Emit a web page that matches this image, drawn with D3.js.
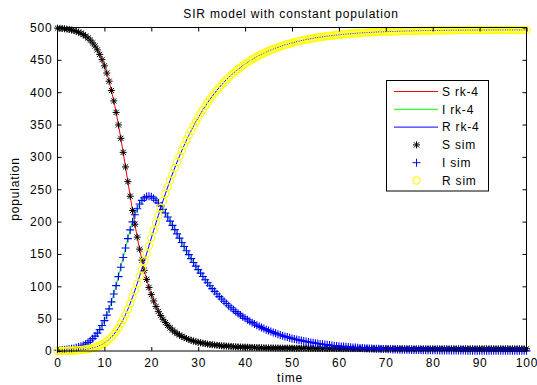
<!DOCTYPE html>
<html><head><meta charset="utf-8">
<script src="https://cdn.jsdelivr.net/npm/d3@7"></script>
<style>
body{margin:0;background:#fff}
svg{display:block}
text{font-family:"Liberation Sans",Arial,Helvetica,sans-serif;font-size:12px;letter-spacing:0.8px;fill:#000}
</style>
</head><body>
<svg id="chart" width="537" height="385"></svg>
<script>
// time grid step of the simulation (t = 0 ... 100)
const timeStep = 0.5;

// Susceptible
const S = [
499.0,498.7,498.4,498.0,497.5,496.9,496.1,495.2,494.1,492.8,
491.1,489.1,486.7,483.8,480.4,476.2,471.3,465.4,458.4,450.3,
440.7,429.6,417.0,402.6,386.5,368.7,349.4,328.7,307.0,284.5,
261.8,239.2,217.2,196.0,176.0,157.4,140.3,124.7,110.7,98.2,
87.2,77.4,68.8,61.3,54.8,49.0,44.0,39.6,35.8,32.4,
29.5,26.9,24.6,22.6,20.8,19.2,17.8,16.5,15.4,14.4,
13.5,
12.7,12.0,11.4,10.7,10.2,9.7,9.3,8.9,8.5,8.1,
7.8,7.5,7.3,7.0,6.8,6.6,6.4,6.2,6.1,5.9,
5.8,5.6,5.5,5.4,5.3,5.2,5.1,5.0,4.9,4.8,
4.8,4.7,4.6,4.6,4.5,4.5,4.4,4.4,4.3,4.3,
4.2,4.2,4.2,4.1,4.1,4.1,4.0,4.0,4.0,3.9,
3.9,3.9,3.9,3.9,3.8,3.8,3.8,3.8,3.8,3.8,
3.7,3.7,3.7,3.7,3.7,3.7,3.7,3.7,3.7,3.7,
3.6,3.6,3.6,3.6,3.6,3.6,3.6,3.6,3.6,3.6,
3.6,3.6,3.6,3.6,3.6,3.6,3.6,3.6,3.5,3.5,
3.5,3.5,3.5,3.5,3.5,3.5,3.5,3.5,3.5,3.5,
3.5,3.5,3.5,3.5,3.5,3.5,3.5,3.5,3.5,3.5,
3.5,3.5,3.5,3.5,3.5,3.5,3.5,3.5,3.5,3.5,
3.5,3.5,3.5,3.5,3.5,3.5,3.5,3.5,3.5,3.5,
3.5,3.5,3.5,3.5,3.5,3.5,3.5,3.5,3.5,3.5
];

// Infected
const I = [
1.0,1.2,1.5,1.8,2.2,2.7,3.3,4.0,4.9,6.0,
7.3,8.9,10.8,13.1,15.8,19.1,23.0,27.6,33.1,39.5,
46.9,55.4,65.1,75.9,88.0,101.0,115.0,129.5,144.4,159.3,
173.7,187.2,199.6,210.6,219.8,227.2,232.8,236.6,238.7,239.2,
238.4,236.2,233.1,229.0,224.3,218.9,213.2,207.0,200.7,194.2,
187.6,181.0,174.4,167.8,161.4,155.0,148.9,142.8,136.9,131.2,
125.7,
120.4,115.2,110.2,105.5,100.8,96.4,92.2,88.1,84.1,80.4,
76.8,73.3,70.0,66.8,63.8,60.9,58.1,55.5,52.9,50.5,
48.2,46.0,43.8,41.8,39.9,38.0,36.3,34.6,33.0,31.5,
30.0,28.6,27.3,26.0,24.8,23.6,22.5,21.5,20.5,19.5,
18.6,17.7,16.9,16.1,15.4,14.6,14.0,13.3,12.7,12.1,
11.5,11.0,10.5,10.0,9.5,9.1,8.6,8.2,7.8,7.5,
7.1,6.8,6.5,6.2,5.9,5.6,5.3,5.1,4.8,4.6,
4.4,4.2,4.0,3.8,3.6,3.5,3.3,3.1,3.0,2.9,
2.7,2.6,2.5,2.4,2.2,2.1,2.0,1.9,1.8,1.8,
1.7,1.6,1.5,1.5,1.4,1.3,1.3,1.2,1.1,1.1,
1.0,1.0,0.9,0.9,0.9,0.8,0.8,0.7,0.7,0.7,
0.6,0.6,0.6,0.6,0.5,0.5,0.5,0.5,0.4,0.4,
0.4,0.4,0.4,0.3,0.3,0.3,0.3,0.3,0.3,0.3,
0.2,0.2,0.2,0.2,0.2,0.2,0.2,0.2,0.2,0.2
];

// Recovered
const R = [
0.0,0.1,0.1,0.2,0.3,0.4,0.6,0.8,1.0,1.3,
1.6,2.0,2.5,3.1,3.8,4.7,5.7,7.0,8.5,10.3,
12.4,15.0,18.0,21.5,25.6,30.3,35.6,41.7,48.6,56.2,
64.5,73.5,83.2,93.4,104.2,115.4,126.9,138.7,150.6,162.5,
174.5,186.3,198.1,209.6,221.0,232.0,242.9,253.4,263.6,273.4,
283.0,292.2,301.1,309.6,317.8,325.7,333.3,340.6,347.6,354.3,
360.7,
366.9,372.8,378.4,383.8,389.0,393.9,398.5,403.0,407.4,411.5,
415.4,419.2,422.7,426.2,429.4,432.5,435.5,438.3,441.0,443.6,
446.0,448.4,450.7,452.8,454.8,456.8,458.6,460.4,462.1,463.7,
465.2,466.7,468.1,469.4,470.7,471.9,473.1,474.1,475.2,476.2,
477.2,478.1,478.9,479.8,480.5,481.3,482.0,482.7,483.3,484.0,
484.6,485.1,485.6,486.1,486.7,487.1,487.6,488.0,488.4,488.7,
489.2,489.5,489.8,490.1,490.4,490.7,491.0,491.2,491.5,491.7,
492.0,492.2,492.4,492.6,492.8,492.9,493.1,493.3,493.4,493.5,
493.7,493.8,493.9,494.0,494.2,494.3,494.4,494.5,494.7,494.7,
494.8,494.9,495.0,495.0,495.1,495.2,495.2,495.3,495.4,495.4,
495.5,495.5,495.6,495.6,495.6,495.7,495.7,495.8,495.8,495.8,
495.9,495.9,495.9,495.9,496.0,496.0,496.0,496.0,496.1,496.1,
496.1,496.1,496.1,496.2,496.2,496.2,496.2,496.2,496.2,496.2,
496.3,496.3,496.3,496.3,496.3,496.3,496.3,496.3,496.3,496.3
];

const xTicks = [0,10,20,30,40,50,60,70,80,90,100];
const yTicks = [0,50,100,150,200,250,300,350,400,450,500];
const legendLabels = ["S rk-4","I rk-4","R rk-4","S sim","I sim","R sim"];
const titleText = "SIR model with constant population";
const xLabel = "time";
const yLabel = "population";

const times = S.map((_, i) => i * timeStep);

const svg = d3.select("#chart");
const L = 57.5, Rt = 526.5, T = 27.5, B = 351;
const x = d3.scaleLinear().domain([0, 100]).range([L, Rt]);
const y = d3.scaleLinear().domain([0, 500]).range([B, T]);

svg.append("rect").attr("width", 537).attr("height", 385).attr("fill", "#fff");

// clip for data
svg.append("clipPath").attr("id", "clip").append("rect")
  .attr("x", L - 6).attr("y", T - 6).attr("width", Rt - L + 12).attr("height", B - T + 12);

const plot = svg.append("g").attr("clip-path", "url(#clip)");

const lineGen = vals => d3.line().x((d, i) => x(times[i])).y(d => y(d))(vals);

const lineSeries = [
  {vals: S, color: "#ff0000"},
  {vals: I, color: "#00ff00"},
  {vals: R, color: "#0000ff"}
];
lineSeries.forEach(s => {
  plot.append("path").attr("d", lineGen(s.vals)).attr("fill", "none")
    .attr("stroke", s.color).attr("stroke-width", 1);
});

const starPath = "M-3.5,0H3.5M0,-3.5V3.5M-2.6,-2.6L2.6,2.6M-2.6,2.6L2.6,-2.6";
const plusPath = "M-4,0H4M0,-4V4";

function drawMarkers(g, vals, kind) {
  const sel = g.append("g");
  vals.forEach((v, i) => {
    const cx = x(times[i]), cy = y(v);
    if (kind === "star") {
      sel.append("path").attr("d", starPath).attr("transform", `translate(${cx},${cy})`)
        .attr("stroke", "#000").attr("stroke-width", 1).attr("fill", "none");
    } else if (kind === "plus") {
      sel.append("path").attr("d", plusPath).attr("transform", `translate(${cx},${cy})`)
        .attr("stroke", "#0000ff").attr("stroke-width", 1.1).attr("fill", "none");
    } else {
      sel.append("circle").attr("cx", cx).attr("cy", cy).attr("r", 3.6)
        .attr("stroke", "#ffff00").attr("stroke-width", 1.1).attr("fill", "none");
    }
  });
}
drawMarkers(plot, S, "star");
drawMarkers(plot, I, "plus");
drawMarkers(plot, R, "circle");

// axes
const gx = svg.append("g").attr("transform", `translate(0,${B})`)
  .call(d3.axisBottom(x).tickValues(xTicks).tickSize(-4).tickPadding(7).tickFormat(d3.format("d")));
const gxt = svg.append("g").attr("transform", `translate(0,${T})`)
  .call(d3.axisTop(x).tickValues(xTicks).tickSize(-4).tickFormat(""));
const gy = svg.append("g").attr("transform", `translate(${L},0)`)
  .call(d3.axisLeft(y).tickValues(yTicks).tickSize(-4).tickPadding(5).tickFormat(d3.format("d")));
const gyr = svg.append("g").attr("transform", `translate(${Rt},0)`)
  .call(d3.axisRight(y).tickValues(yTicks).tickSize(-4).tickFormat(""));
[gx, gxt, gy, gyr].forEach(g => {
  g.select(".domain").remove();
  g.selectAll("line").attr("stroke", "#000");
  g.selectAll("text").attr("font-family", null).attr("font-size", null).attr("fill", "#000");
});
svg.append("rect").attr("x", L).attr("y", T).attr("width", Rt - L).attr("height", B - T)
  .attr("fill", "none").attr("stroke", "#000").attr("stroke-width", 1);

// title and labels
svg.append("text").attr("x", 291).attr("y", 18).attr("text-anchor", "middle").text(titleText);
svg.append("text").attr("x", 290).attr("y", 382).attr("text-anchor", "middle").text(xLabel);
svg.append("text").attr("transform", "translate(19,189) rotate(-90)").attr("text-anchor", "middle").text(yLabel);

// legend
const lg = svg.append("g");
lg.append("rect").attr("x", 386.5).attr("y", 80.5).attr("width", 102).attr("height", 110.5)
  .attr("fill", "#fff").attr("stroke", "#000").attr("stroke-width", 1);
const rowY = i => 91.5 + i * 17.8;
const legendColors = ["#ff0000", "#00ff00", "#0000ff"];
legendLabels.forEach((lab, i) => {
  const yy = rowY(i);
  if (i < 3) {
    lg.append("line").attr("x1", 394).attr("x2", 438).attr("y1", yy).attr("y2", yy)
      .attr("stroke", legendColors[i]).attr("stroke-width", 1);
  } else if (i === 3) {
    lg.append("path").attr("d", starPath).attr("transform", `translate(416.5,${yy})`)
      .attr("stroke", "#000").attr("fill", "none");
  } else if (i === 4) {
    lg.append("path").attr("d", plusPath).attr("transform", `translate(416.5,${yy})`)
      .attr("stroke", "#0000ff").attr("fill", "none");
  } else {
    lg.append("circle").attr("cx", 416.5).attr("cy", yy).attr("r", 3.6)
      .attr("stroke", "#ffff00").attr("stroke-width", 1.1).attr("fill", "none");
  }
  lg.append("text").attr("x", 442).attr("y", yy).attr("dy", "0.36em").text(lab);
});
</script>
</body></html>
